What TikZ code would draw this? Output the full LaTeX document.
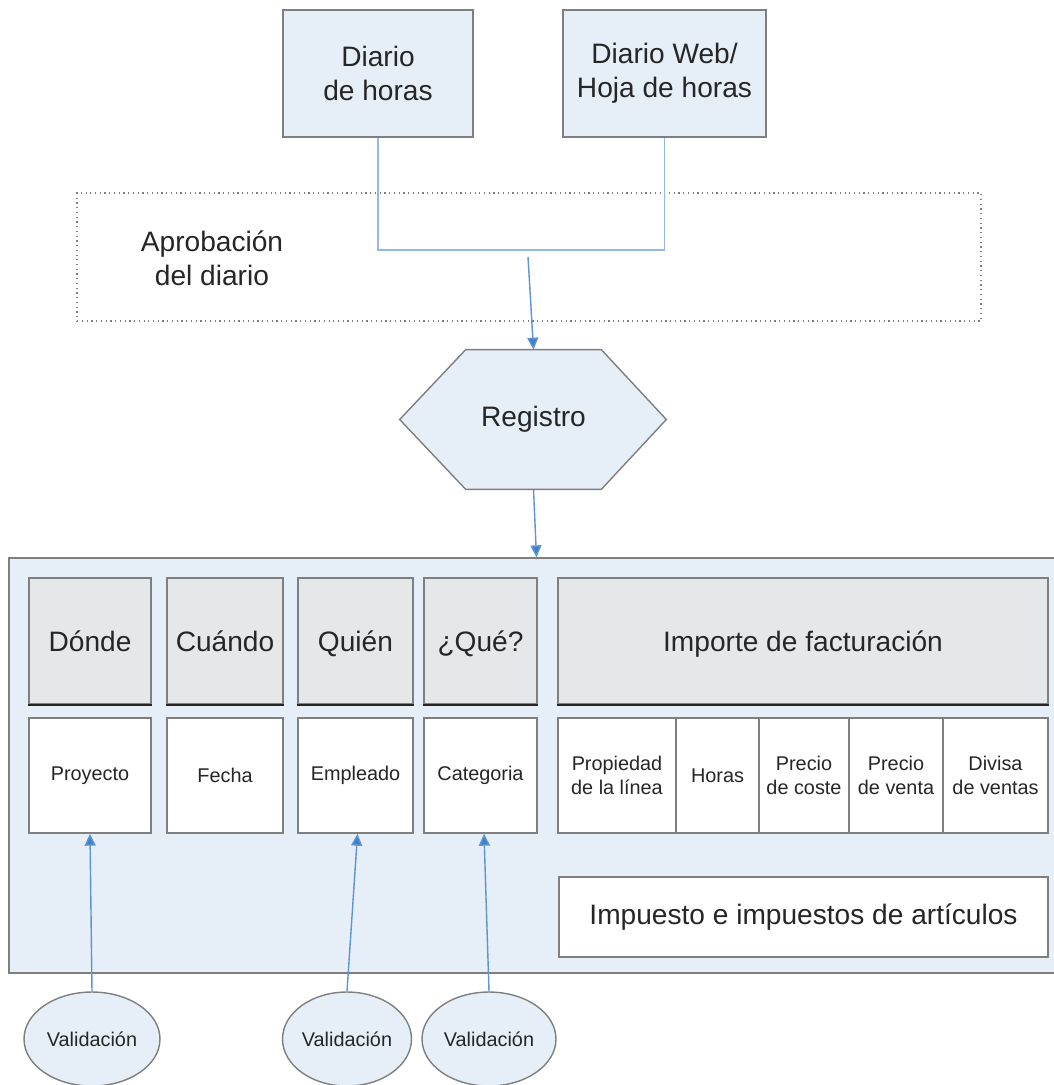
\documentclass[tikz,border=0pt]{standalone}
\usepackage{fontspec}
\setmainfont{Liberation Sans}
\usetikzlibrary{shapes.geometric,arrows.meta}
\definecolor{fondo}{HTML}{E6EEF8}
\definecolor{gris}{HTML}{E6E7E8}
\definecolor{borde}{HTML}{7F7F7F}
\definecolor{enlace}{HTML}{95B8E3}
\definecolor{azul}{HTML}{3F82C9}
\definecolor{texto}{HTML}{262626}
\tikzset{
    caja/.style={draw=borde, line width=0.8pt, fill=fondo, align=center, inner sep=0pt, text=texto, font=\fontsize{16}{19.5}\selectfont},
    sombra/.style={append after command={(\tikzlastnode.south west) edge[draw=black!85, line width=1pt] (\tikzlastnode.south east)}},
    cajagris/.style={caja, fill=gris, minimum height=2.52cm, text height=12.5pt, text depth=1pt, sombra},
    cajablanca/.style={caja, fill=white, minimum height=2.3cm, font=\fontsize{11.3}{13.6}\selectfont},
    validacion/.style={caja, ellipse, minimum height=1.88cm, font=\fontsize{11.3}{13.6}\selectfont},
    enlace/.style={draw=enlace, line width=1pt},
    flecha/.style={draw=azul!85, line width=0.8pt, -{Triangle[length=0.24cm, width=0.22cm, fill=azul]}},
  }
\begin{document}
\begin{tikzpicture}[x=0.02cm, y=-0.02cm]
    \useasboundingbox (0,0) rectangle (1054,1085);
    %diarios
    \node[caja, minimum width=3.8cm, minimum height=2.54cm] (diario) at (378,73.5) {Diario\\de horas};
    \node[caja, minimum width=4.06cm, minimum height=2.54cm] (web) at (664.5,73.5) {Diario Web/\\Hoja de horas};
    %aprobacion
    \node[draw=borde, dotted, line width=0.7pt, minimum width=18.08cm, minimum height=2.56cm] (aprobacion) at (529,257) {};
    \node[align=center, text=texto, font=\fontsize{16}{19.5}\selectfont] (aprotexto) at (212,258) {Aprobación\\del diario};
    \coordinate (junta) at (525,250);
    \coordinate (salida) at (528,257);
    \draw[enlace] (diario.south) |- (junta) -| (web.south);
    %registro
    \node[minimum width=2.7cm, minimum height=2.78cm] (registro) at (533.5,419.5) {};
    \draw[caja] (registro.north west) -- (registro.north east) -- ([xshift=1.3cm]registro.east) -- (registro.south east)
                -- (registro.south west) -- ([xshift=-1.32cm]registro.west) -- cycle;
    \node[text=texto, font=\fontsize{16}{19.5}\selectfont] (regtexto) at (registro) {Registro};
    \draw[flecha] (salida) -- (registro.north);
    %lineas de diario
    \node[caja, minimum width=21.1cm, minimum height=8.3cm] (lineas) at (536.5,765.5) {};
    \draw[flecha] (registro.south) -- (lineas.north);
    \node[cajagris, minimum width=2.44cm] (donde) at (90,641) {Dónde};
    \node[cajagris, minimum width=2.32cm] (cuando) at (225,641) {Cuándo};
    \node[cajagris, minimum width=2.3cm] (quien) at (355.5,641) {Quién};
    \node[cajagris, minimum width=2.26cm] (que) at (480.5,641) {¿Qué?};
    \node[cajagris, minimum width=9.8cm] (importe) at (803,641) {Importe de facturación};
    \node[cajablanca, minimum width=2.44cm] (proyecto) at (90,775.5) {Proyecto};
    \node[cajablanca, minimum width=2.32cm] (fecha) at (225,775.5) {Fecha};
    \node[cajablanca, minimum width=2.3cm] (empleado) at (355.5,775.5) {Empleado};
    \node[cajablanca, minimum width=2.26cm] (categoria) at (480.5,775.5) {Categoria};
    \node[cajablanca, minimum width=2.36cm] (propiedad) at (617,775.5) {Propiedad\\de la línea};
    \node[cajablanca, minimum width=1.66cm] (horas) at (717.5,775.5) {Horas};
    \node[cajablanca, minimum width=1.8cm] (coste) at (804,775.5) {Precio\\de coste};
    \node[cajablanca, minimum width=1.88cm] (venta) at (896,775.5) {Precio\\de venta};
    \node[cajablanca, minimum width=2.1cm] (divisa) at (995.5,775.5) {Divisa\\de ventas};
    \node[caja, fill=white, minimum width=9.78cm, minimum height=1.6cm] (impuesto) at (803.5,917) {Impuesto e impuestos de artículos};
    %validaciones
    \node[validacion, minimum width=2.72cm] (val1) at (92,1039) {Validación};
    \node[validacion, minimum width=2.58cm] (val2) at (347,1039) {Validación};
    \node[validacion, minimum width=2.68cm] (val3) at (489,1039) {Validación};
    \draw[flecha] (val1.north) -- (proyecto.south);
    \draw[flecha] (val2.north) -- ([xshift=0.04cm]empleado.south);
    \draw[flecha] (val3.north) -- ([xshift=0.07cm]categoria.south);
\end{tikzpicture}
\end{document}
